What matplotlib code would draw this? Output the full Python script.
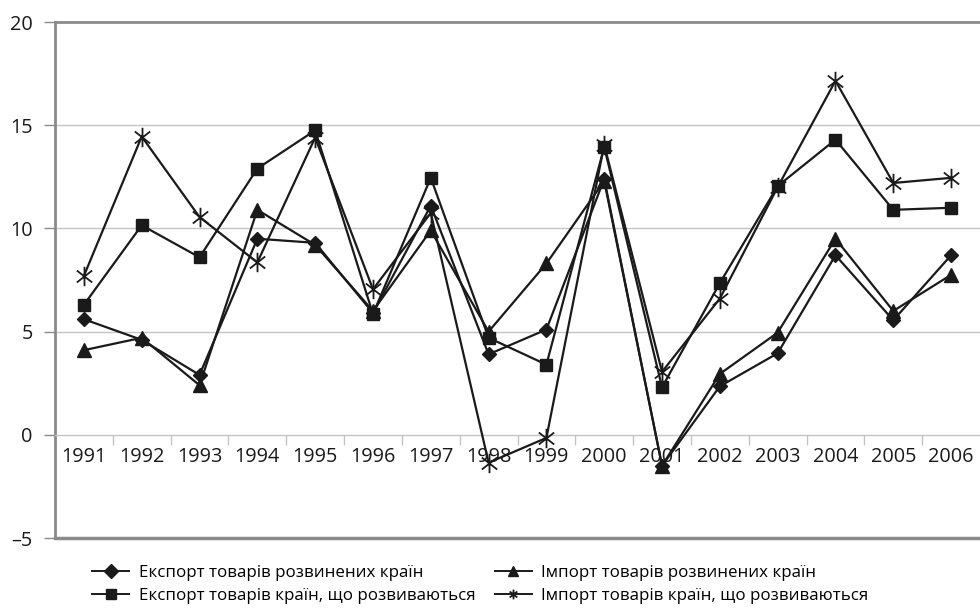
import matplotlib
matplotlib.use("Agg")
import matplotlib.pyplot as plt
from matplotlib.path import Path
import numpy as np

years = ["1991", "1992", "1993", "1994", "1995", "1996", "1997", "1998",
         "1999", "2000", "2001", "2002", "2003", "2004", "2005", "2006"]

export_developed = [5.6, 4.6, 2.9, 9.5, 9.3, 5.9, 11.1, 3.9,
                    5.1, 12.4, -1.5, 2.35, 3.95, 8.7, 5.55, 8.7]
import_developed = [4.1, 4.7, 2.4, 10.9, 9.2, 6.0, 9.9, 5.0,
                    8.3, 12.3, -1.5, 2.95, 4.95, 9.5, 6.0, 7.75]
export_developing = [6.3, 10.15, 8.6, 12.9, 14.75, 5.85, 12.45, 4.7,
                     3.4, 13.95, 2.3, 7.35, 12.05, 14.3, 10.9, 11.0]
import_developing = [7.7, 14.45, 10.55, 8.35, 14.4, 7.05, 10.75, -1.35,
                     -0.15, 14.05, 3.05, 6.6, 12.0, 17.15, 12.2, 12.45]

labels = ["Експорт товарів розвинених країн",
          "Експорт товарів країн, що розвиваються",
          "Імпорт товарів розвинених країн",
          "Імпорт товарів країн, що розвиваються"]

ytick_values = [-5, 0, 5, 10, 15, 20]
ytick_labels = ["–5", "0", "5", "10", "15", "20"]

plt.rcParams['font.family'] = ['Open Sans', 'DejaVu Sans']

# asterisk marker: vertical bar + two diagonals (X-like)
a = np.deg2rad(38)
cx, sy = np.cos(a), np.sin(a)
star = Path([(0, -1), (0, 1), (-cx, -sy), (cx, sy), (-cx, sy), (cx, -sy)],
            [Path.MOVETO, Path.LINETO, Path.MOVETO, Path.LINETO, Path.MOVETO, Path.LINETO])

fig = plt.figure(figsize=(9.8, 6.12), dpi=100)
ax = fig.add_axes([55/980, 74/612, 1 - 55/980, (538-22)/612])

x = np.arange(len(years))
grid_c = "#c4c4c4"
spine_c = "#8a8a8a"
ink = "#1a1a1a"

for v in [5, 10, 15]:
    ax.axhline(v, color=grid_c, lw=1.0, zorder=0)

lw = 1.6
h1, = ax.plot(x, export_developed, color=ink, lw=lw, marker="D", ms=7.5, zorder=3)
h2, = ax.plot(x, export_developing, color=ink, lw=lw, marker="s", ms=8.5, zorder=3)
h3, = ax.plot(x, import_developed, color=ink, lw=lw, marker="^", ms=9.5, zorder=3)
h4, = ax.plot(x, import_developing, color=ink, lw=lw, marker=star, ms=14,
              mew=1.3, zorder=3)

ax.set_xlim(-0.5, len(years) - 0.5)
ax.set_ylim(-5, 20)

# x axis at zero, Excel style
ax.spines['bottom'].set_position(('data', 0))
ax.spines['bottom'].set_color(grid_c)
ax.spines['bottom'].set_linewidth(1.0)
ax.spines['right'].set_visible(False)
ax.spines['top'].set_color(spine_c)
ax.spines['top'].set_linewidth(2.0)
ax.spines['left'].set_color(spine_c)
ax.spines['left'].set_linewidth(2.0)
ax.axhline(-5, color=spine_c, lw=2.5, clip_on=False, zorder=1)

ax.set_xticks(np.arange(len(years) - 1) + 0.5)
ax.set_xticklabels([])
ax.tick_params(axis='x', which='major', direction='out', length=7, width=1, color=grid_c)
ax.set_xticks(x, minor=True)
ax.set_xticklabels(years, minor=True)
ax.tick_params(axis='x', which='minor', length=0, pad=9, labelsize=14.3, labelcolor=ink)

ax.set_yticks(ytick_values)
ax.set_yticklabels(ytick_labels)
ax.tick_params(axis='y', direction='out', length=8, width=1, color=spine_c,
               pad=8, labelsize=14.3, labelcolor=ink)

leg = fig.legend([h1, h2, h3, h4], labels, ncol=2, loc='upper left',
                 bbox_to_anchor=(92/980, 1 - 565/612), frameon=False,
                 fontsize=12.2, handlelength=2.2, handletextpad=0.55,
                 columnspacing=1.15, labelspacing=0.42, borderpad=0, borderaxespad=0)
for line in leg.get_lines():
    line.set_markersize(7)
    line.set_linewidth(1.4)

fig.savefig("out.png", dpi=100)
